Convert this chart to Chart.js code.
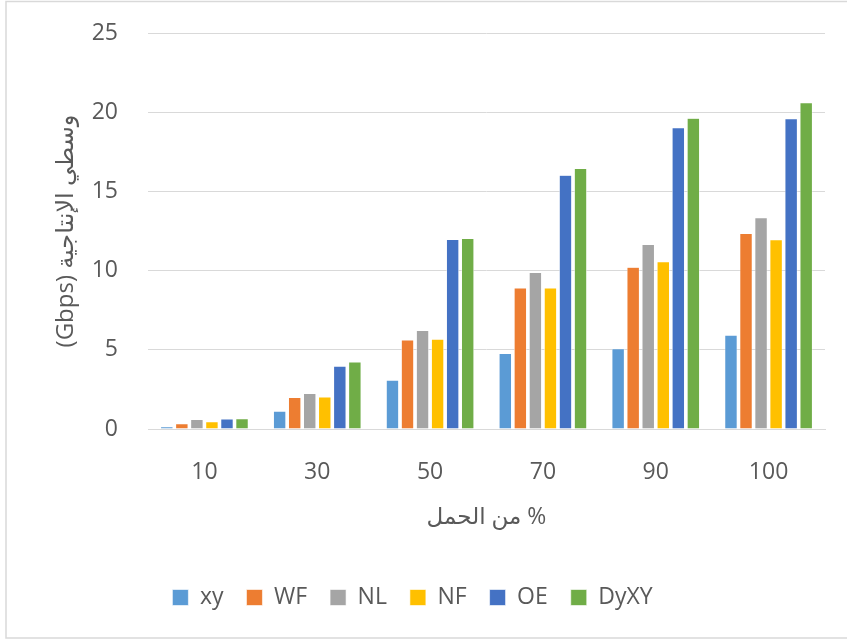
<!DOCTYPE html>
<html>
<head>
<meta charset="utf-8">
<script src="https://cdn.jsdelivr.net/npm/chart.js@4/dist/chart.umd.min.js"></script>
<style>
  html, body { margin: 0; padding: 0; background: #fff; }
  #wrap { width: 847px; height: 639px; position: relative; }
</style>
</head>
<body>
<div id="wrap"><canvas id="chart"></canvas></div>
<script>
const LOADS = ['10', '30', '50', '70', '90', '100'];
const Y_TICKS = [0, 5, 10, 15, 20, 25];

const XY = [0.15, 1.13, 3.09, 4.78, 5.08, 5.93];
const WF = [0.33, 2.0, 5.63, 8.9, 10.21, 12.35];
const NL = [0.6, 2.25, 6.23, 9.89, 11.65, 13.35];
const NF = [0.46, 2.02, 5.68, 8.9, 10.57, 11.95];
const OE = [0.63, 3.97, 11.97, 16.02, 19.03, 19.6];
const DYXY = [0.65, 4.23, 12.03, 16.45, 19.62, 20.61];

const FONT = "'Open Sans', 'DejaVu Sans', sans-serif";
const TEXT = '#595959';
const GRID = '#d9d9d9';

function series(label, data, color) {
  return {
    label,
    data,
    backgroundColor: color,
    borderColor: '#ffffff',
    borderWidth: 0.6,
    categoryPercentage: 0.8,
    barPercentage: 0.84,
  };
}

// light outer border like the Excel chart area
const frame = {
  id: 'frame',
  afterDraw(chart) {
    const ctx = chart.ctx;
    ctx.save();
    ctx.strokeStyle = GRID;
    ctx.lineWidth = 1.5;
    ctx.strokeRect(6, 1.5, 860, 636.5);
    ctx.restore();
  }
};

new Chart(document.getElementById('chart'), {
  type: 'bar',
  data: {
    labels: LOADS,
    datasets: [
      series('xy', XY, '#5b9bd5'),
      series('WF', WF, '#ed7d31'),
      series('NL', NL, '#a5a5a5'),
      series('NF', NF, '#ffc000'),
      series('OE', OE, '#4472c4'),
      series('DyXY', DYXY, '#70ad47'),
    ]
  },
  options: {
    responsive: true,
    maintainAspectRatio: false,
    animation: false,
    layout: { padding: { top: 33, right: 22, left: 0, bottom: 20 } },
    plugins: {
      tooltip: { enabled: false },
      legend: {
        position: 'bottom',
        labels: {
          color: TEXT,
          font: { family: FONT, size: 23 },
          boxWidth: 16,
          boxHeight: 16,
          padding: 23,
        }
      }
    },
    scales: {
      x: {
        grid: { display: false, drawTicks: false },
        border: { color: GRID, width: 1 },
        ticks: { color: TEXT, font: { family: FONT, size: 23 }, padding: 30 },
        title: {
          display: true,
          text: 'من الحمل %',
          color: TEXT,
          font: { family: FONT, size: 23 },
          padding: { top: 10, bottom: 32 }
        },
        afterFit(scale) {
          scale.height = 134;
          scale.paddingLeft = 0;
          scale.paddingRight = 0;
        }
      },
      y: {
        min: 0,
        max: 25,
        afterBuildTicks(scale) { scale.ticks = Y_TICKS.map(v => ({ value: v })); },
        grid: { color: GRID, lineWidth: 1, drawTicks: false },
        border: { display: false },
        ticks: { color: TEXT, font: { family: FONT, size: 23 }, padding: 30 },
        title: {
          display: true,
          text: '(Gbps) وسطي الإنتاجية',
          color: TEXT,
          font: { family: FONT, size: 24 },
          padding: { top: 52, bottom: 0 }
        },
        afterFit(scale) {
          scale.width = 148;
          scale.paddingTop = 0;
          scale.paddingBottom = 0;
        }
      }
    }
  },
  plugins: [frame]
});
</script>
</body>
</html>
